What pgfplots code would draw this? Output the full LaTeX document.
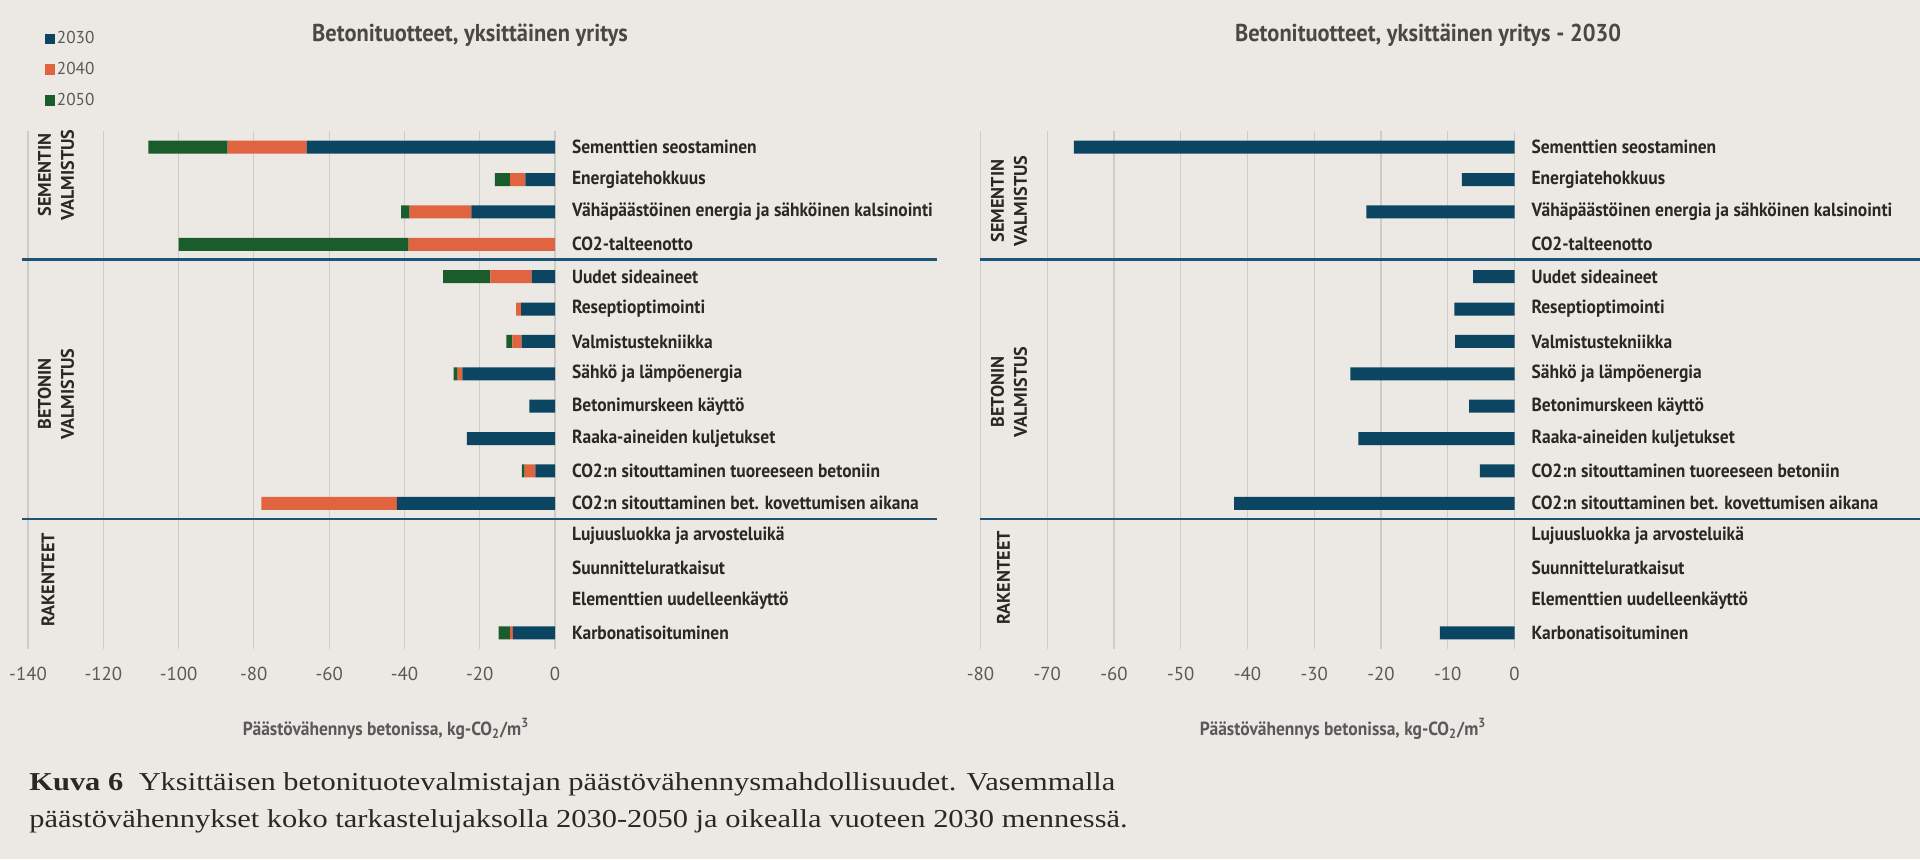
\documentclass[border=0pt]{standalone}
\usepackage{pgfplots}
\pgfplotsset{compat=1.18}
\usepackage{pgfplotstable}
\usepackage{fontspec}
\setmainfont{PT Sans}
\newfontfamily\cond[FakeStretch=0.92]{PT Sans}
\newfontfamily\capfont[FakeStretch=1.18]{Liberation Serif}
\definecolor{bg}{HTML}{ECE9E4}
\definecolor{cA}{HTML}{0B4562}
\definecolor{cB}{HTML}{E0643F}
\definecolor{cC}{HTML}{1B5C2C}
\definecolor{gridc}{HTML}{CFCCC7}
\definecolor{sepc}{HTML}{1E5577}
\definecolor{labc}{HTML}{2B2723}
\definecolor{tickc}{HTML}{595959}
\definecolor{titc}{HTML}{4A4744}

\pgfplotstableread{
y a b c
1 -66 -21 -21
2 -7.9 -4.0 -4.1
3 -22.2 -16.4 -2.3
4 0 -38.9 -61.1
5 -6.2 -11.0 -12.5
6 -9.0 -1.3 0
7 -8.9 -2.4 -1.6
8 -24.6 -1.3 -1.0
9 -6.8 0 0
10 -23.4 0 0
11 -5.2 -2.9 -0.7
12 -42.0 -36.0 0
13 0 0 0
14 0 0 0
15 0 0 0
16 -11.2 -0.7 -3.1
}\leftdata

\pgfplotstableread{
y a
1 -66
2 -7.9
3 -22.2
4 0
5 -6.2
6 -9.0
7 -8.9
8 -24.6
9 -6.8
10 -23.4
11 -5.2
12 -42.0
13 0
14 0
15 0
16 -11.2
}\rightdata

\pgfplotsset{mybars/.style={
  scale only axis, xbar stacked, bar width=6.5pt,
  y dir=reverse, ymin=0.5, ymax=16.5, height=259pt,
  axis line style={draw=none}, major tick length=0pt,
  xmajorgrids, grid style={gridc, line width=0.6pt},
  ytick={1,...,16},
  yticklabels={Sementtien seostaminen,Energiatehokkuus,Vähäpäästöinen energia ja sähköinen kalsinointi,CO2-talteenotto,Uudet sideaineet,Reseptioptimointi,Valmistustekniikka,Sähkö ja lämpöenergia,Betonimurskeen käyttö,Raaka-aineiden kuljetukset,CO2:n sitouttaminen tuoreeseen betoniin,CO2:n sitouttaminen bet. kovettumisen aikana,Lujuusluokka ja arvosteluikä,Suunnitteluratkaisut,Elementtien uudelleenkäyttö,Karbonatisoituminen},
  yticklabel pos=right,
  yticklabel style={anchor=west, font=\cond\bfseries\fontsize{9.5}{10}\selectfont, text=labc, xshift=5pt},
  xticklabel style={font=\fontsize{9.4}{10}\selectfont, text=tickc, yshift=-5.5pt},
  /pgf/number format/assume math mode=true,
}}

\begin{document}
\begin{tikzpicture}[x=1pt,y=1pt]
\fill[bg] (0,0) rectangle (960,429.5);

\begin{axis}[mybars, at={(14pt,105pt)}, anchor=south west, width=263.5pt,
  xmin=-140, xmax=0, xtick={-140,-120,...,0},
  xticklabels={-140,-120,-100,-80,-60,-40,-20,0},
  legend style={at={(0.02,1.205)}, anchor=north west, draw=none, fill=none,
    font=\fontsize{8.6}{9}\selectfont, text=tickc, row sep=5.8pt,
    nodes={inner sep=1pt}},
  legend cell align=left,
  legend image code/.code={\fill[#1,draw=none] (0pt,-2.6pt) rectangle (5pt,2.6pt);},
]
\addplot[fill=cA, draw=none] table[x=a, y=y]{\leftdata};
\addplot[fill=cB, draw=none] table[x=b, y=y]{\leftdata};
\addplot[fill=cC, draw=none] table[x=c, y=y]{\leftdata};
\legend{2030,2040,2050}
\end{axis}

\begin{axis}[mybars, at={(490.25pt,105pt)}, anchor=south west, width=267pt,
  xmin=-80, xmax=0, xtick={-80,-70,...,0},
  xticklabels={-80,-70,-60,-50,-40,-30,-20,-10,0},
]
\addplot[fill=cA, draw=none] table[x=a, y=y]{\rightdata};
\end{axis}

% separators
\draw[sepc, line width=1.2pt] (11,299.7) -- (468.5,299.7);
\draw[sepc, line width=1.2pt] (11,170) -- (468.5,170);
\draw[sepc, line width=1.2pt] (490,299.7) -- (960,299.7);
\draw[sepc, line width=1.2pt] (490,170) -- (960,170);

% group labels
\begin{scope}[every node/.style={rotate=90, align=center, text=labc, font=\bfseries\fontsize{9.1}{11.6}\selectfont, inner sep=0pt}]
\node at (28,342) {SEMENTIN\\VALMISTUS};
\node at (28,232.5) {BETONIN\\VALMISTUS};
\node at (24,139.5) {RAKENTEET};
\node at (504.5,329) {SEMENTIN\\VALMISTUS};
\node at (504.5,233.5) {BETONIN\\VALMISTUS};
\node at (501.7,140.5) {RAKENTEET};
\end{scope}

% titles
\node[font=\cond\bfseries\fontsize{12.2}{13}\selectfont, text=titc] at (235,412) {Betonituotteet, yksittäinen yritys};
\node[font=\cond\bfseries\fontsize{12.2}{13}\selectfont, text=titc] at (714,412) {Betonituotteet, yksittäinen yritys - 2030};

% axis labels
\node[font=\cond\bfseries\fontsize{9.5}{10}\selectfont, text=tickc] at (193,65) {Päästövähennys betonissa, kg-CO\textsubscript{2}/m\textsuperscript{3}};
\node[font=\cond\bfseries\fontsize{9.5}{10}\selectfont, text=tickc] at (671.5,65) {Päästövähennys betonissa, kg-CO\textsubscript{2}/m\textsuperscript{3}};

% caption
\node[anchor=base west, inner sep=0pt, font=\capfont\fontsize{12.9}{14}\selectfont, text=labc] at (14.5,34.5) {\textbf{Kuva 6}\hspace{0.6em}Yksittäisen betonituotevalmistajan päästövähennysmahdollisuudet. Vasemmalla};
\node[anchor=base west, inner sep=0pt, font=\capfont\fontsize{12.9}{14}\selectfont, text=labc] at (14.5,16) {päästövähennykset koko tarkastelujaksolla 2030-2050 ja oikealla vuoteen 2030 mennessä.};

\pgfresetboundingbox
\path (0,0) rectangle (960,429.5);
\end{tikzpicture}
\end{document}
